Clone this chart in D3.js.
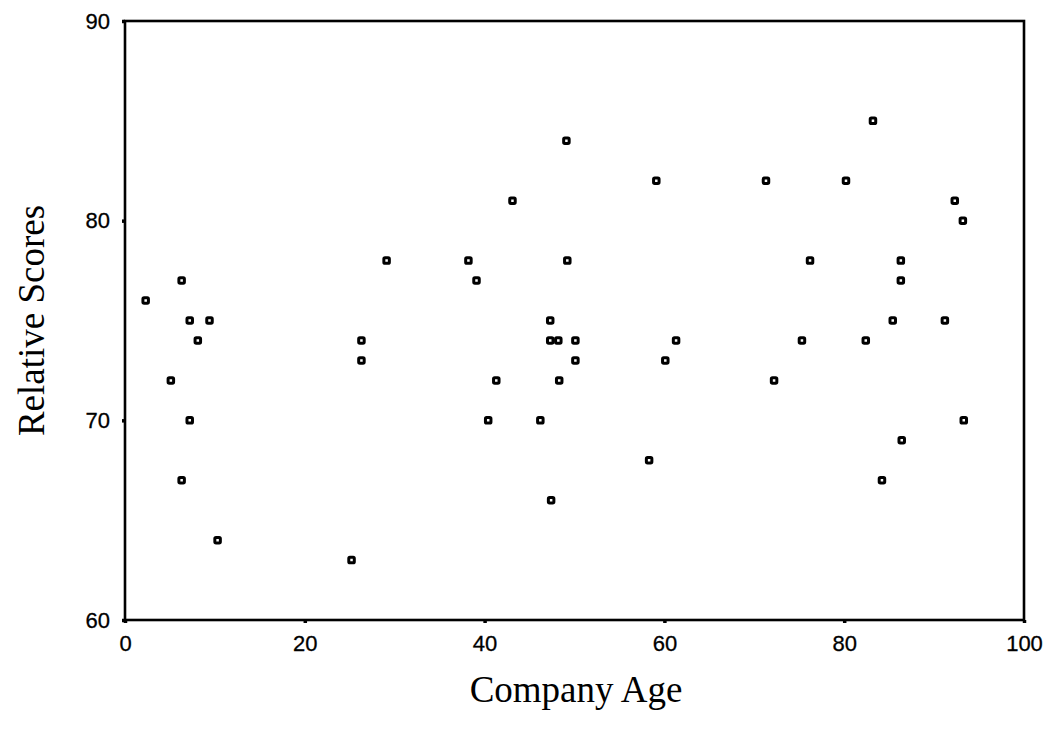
<!DOCTYPE html>
<html>
<head>
<meta charset="utf-8">
<script src="https://cdn.jsdelivr.net/npm/d3@7"></script>
<style>
  html, body { margin: 0; padding: 0; background: #fff; }
  svg { display: block; }
</style>
</head>
<body>
<svg id="chart" width="1049" height="738"></svg>
<script>
const companyAge = [
  2.3, 6.3, 7.2, 9.4, 8.1, 29.1, 26.3, 26.3, 5.1, 7.2, 6.3, 10.3, 25.2,
  49.1, 59.1, 43.1, 38.2, 49.2, 39.1, 47.3, 47.3, 48.2, 50.1, 61.3, 50.1, 60.1,
  41.3, 48.3, 40.4, 46.2, 58.3, 47.4,
  83.2, 71.3, 80.2, 92.3, 93.2, 76.2, 86.3, 86.3, 85.4, 91.2, 75.3, 82.4,
  72.2, 93.3, 86.4, 84.2
];
const relativeScores = [
  76, 77, 75, 75, 74, 78, 74, 73, 72, 70, 67, 64, 63,
  84, 82, 81, 78, 78, 77, 75, 74, 74, 74, 74, 73, 73,
  72, 72, 70, 70, 68, 66,
  85, 82, 82, 81, 80, 78, 78, 77, 75, 75, 74, 74,
  72, 70, 69, 67
];
const xTicks = [0, 20, 40, 60, 80, 100];
const yTicks = [60, 70, 80, 90];
const xTitle = "Company Age";
const yTitle = "Relative Scores";

const svg = d3.select("#chart");
const mLeft = 125, mRight = 1024, mTop = 21, mBottom = 620;

const x = d3.scaleLinear().domain([0, 100]).range([mLeft, mRight]);
const y = d3.scaleLinear().domain([60, 90]).range([mBottom, mTop]);

// frame
svg.append("rect")
  .attr("x", mLeft).attr("y", mTop)
  .attr("width", mRight - mLeft).attr("height", mBottom - mTop)
  .attr("fill", "none").attr("stroke", "#000").attr("stroke-width", 2.6);

const tickFont = "'Liberation Sans', Arial, sans-serif";

const xAxis = svg.append("g")
  .attr("transform", `translate(0,${mBottom})`)
  .call(d3.axisBottom(x).tickValues(xTicks).tickSize(3).tickPadding(12).tickFormat(d3.format("d")));
xAxis.select(".domain").remove();
xAxis.selectAll(".tick line").attr("stroke", "#000").attr("stroke-width", 3.5);
xAxis.selectAll(".tick text")
  .attr("font-family", tickFont).attr("font-size", 22).attr("fill", "#000")
  .attr("stroke", "#000").attr("stroke-width", 0.3);

const yAxis = svg.append("g")
  .attr("transform", `translate(${mLeft},0)`)
  .call(d3.axisLeft(y).tickValues(yTicks).tickSize(3).tickPadding(12).tickFormat(d3.format("d")));
yAxis.select(".domain").remove();
yAxis.selectAll(".tick line").attr("stroke", "#000").attr("stroke-width", 3.5);
yAxis.selectAll(".tick text")
  .attr("font-family", tickFont).attr("font-size", 22).attr("fill", "#000")
  .attr("stroke", "#000").attr("stroke-width", 0.3);

// titles
svg.append("text")
  .attr("x", 576).attr("y", 702)
  .attr("text-anchor", "middle")
  .attr("font-family", "'Liberation Serif', 'Times New Roman', serif")
  .attr("font-size", 37).attr("fill", "#000")
  .text(xTitle);

svg.append("text")
  .attr("transform", `translate(44,${(mTop + mBottom) / 2}) rotate(-90)`)
  .attr("text-anchor", "middle")
  .attr("font-family", "'Liberation Serif', 'Times New Roman', serif")
  .attr("font-size", 37).attr("fill", "#000")
  .text(yTitle);

// points
const data = companyAge.map((a, i) => ({ a, s: relativeScores[i] }));
const sz = 5.5;
svg.append("g").selectAll("rect")
  .data(data)
  .join("rect")
  .attr("x", d => x(d.a) - sz / 2)
  .attr("y", d => y(d.s) - sz / 2)
  .attr("width", sz).attr("height", sz)
  .attr("rx", 1.2)
  .attr("fill", "#fff")
  .attr("stroke", "#000")
  .attr("stroke-width", 3);
</script>
</body>
</html>
